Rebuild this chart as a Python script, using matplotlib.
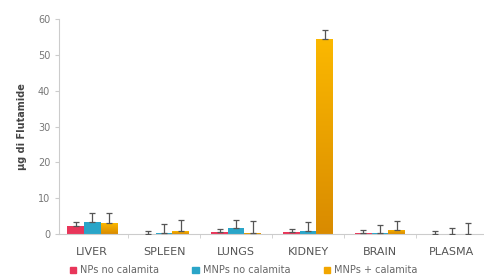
import numpy as np
import matplotlib
matplotlib.use("Agg")
import matplotlib.pyplot as plt
from matplotlib.colors import LinearSegmentedColormap
from matplotlib.patches import Patch

organs = ["LIVER", "SPLEEN", "LUNGS", "KIDNEY", "BRAIN", "PLASMA"]
series = ["NPs no calamita", "MNPs no calamita", "MNPs + calamita"]
nps_no = [2.2, 0.0, 0.5, 0.5, 0.2, 0.0]
mnps_no = [3.5, 0.3, 1.8, 0.8, 0.4, 0.0]
mnps_mag = [3.0, 0.8, 0.3, 54.3, 1.2, 0.0]
err_nps_no = [1.2, 0.8, 1.0, 1.0, 1.0, 0.8]
err_mnps_no = [2.5, 2.5, 2.0, 2.5, 2.0, 1.8]
err_mnps_mag = [3.0, 3.0, 3.3, 2.7, 2.5, 3.0]

colors = ["#e8365a", "#2aa5c8", "#f2a600"]
orange_grad = LinearSegmentedColormap.from_list("og", ["#d98b00", "#fbb800"])

fig = plt.figure(figsize=(4.85, 2.79), dpi=100)
ax = fig.add_axes([0.122, 0.161, 0.878, 0.771])

x = np.arange(len(organs))
w = 0.23
data = [(nps_no, err_nps_no), (mnps_no, err_mnps_no), (mnps_mag, err_mnps_mag)]
for i, (vals, errs) in enumerate(data):
    bars = ax.bar(x + (i - 1) * w, vals, w, color=colors[i], zorder=2)
    if i == 2:
        # vertical gradient on the orange bars
        for b in bars:
            b.set_facecolor("none")
            b.set_edgecolor("none")
            bx, by = b.get_x(), b.get_y()
            bw, bh = b.get_width(), b.get_height()
            if bh <= 0:
                continue
            im = ax.imshow(np.linspace(0, 1, 100).reshape(-1, 1), cmap=orange_grad,
                           extent=[bx, bx + bw, by, by + bh], origin="lower",
                           aspect="auto", zorder=2)
            im.set_clip_path(b)
    ax.errorbar(x + (i - 1) * w, vals, yerr=[np.zeros(len(errs)), errs], fmt="none",
                ecolor="#555555", elinewidth=0.9, capsize=2.5, capthick=0.9, zorder=3)

ax.set_xlim(-0.46, len(organs) - 0.54)
ax.set_ylim(0, 60)
ax.set_yticks(range(0, 61, 10))
ax.set_xticks(x)
ax.set_xticklabels(organs)
ax.set_xticks(np.arange(0.5, len(organs) - 0.5, 1), minor=True)
ax.tick_params(axis="x", which="major", length=0, pad=9, labelsize=8, colors="#555555")
ax.tick_params(axis="x", which="minor", length=3, color="#cccccc")
ax.tick_params(axis="y", length=3, color="#cccccc", labelsize=7, colors="#777777")
for s in ["top", "right"]:
    ax.spines[s].set_visible(False)
for s in ["left", "bottom"]:
    ax.spines[s].set_color("#cccccc")
ax.set_ylabel("µg di Flutamide", fontsize=7, fontweight="bold", color="#444444", labelpad=8)

handles = [Patch(color=c, label=s) for c, s in zip(colors, series)]
ax.legend(handles=handles, loc="upper left", bbox_to_anchor=(0.004, -0.105), ncol=3,
          frameon=False, fontsize=7, handlelength=0.7, handleheight=0.7,
          handletextpad=0.4, columnspacing=3.4, labelcolor="#666666")

fig.savefig("out.png", dpi=100)
